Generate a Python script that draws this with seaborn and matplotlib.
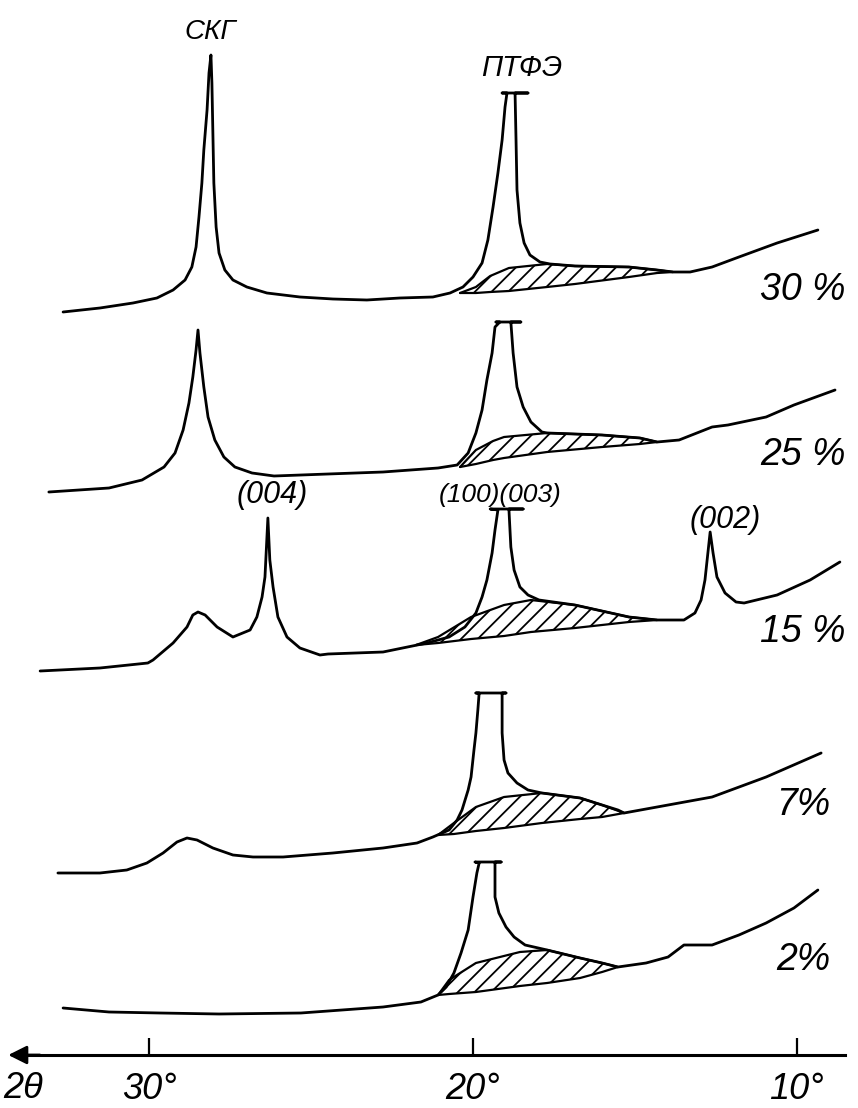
import matplotlib
matplotlib.use("Agg")
import matplotlib.pyplot as plt
import seaborn as sns
import pandas as pd

# 2theta (deg) and intensity (arb. units, relative to each curve's own baseline)
# the flat "T" at the top of the PTFE peak marks a truncated (off-scale) reflection
theta_30 = [32.67, 31.53, 30.51, 29.77, 29.27, 28.90, 28.69, 28.56, 28.47, 28.38, 28.32, 28.22, 28.16, 28.10,
            28.07, 28.04, 28.01, 27.94, 27.85, 27.67, 27.42, 26.99, 26.37, 25.35, 24.33, 23.28, 22.26, 21.24,
            20.71, 20.31, 20.00, 19.72, 19.54, 19.38, 19.23, 19.10, 19.01, 18.95, 19.10, 18.30, 18.70,
            18.67, 18.64, 18.55, 18.42, 18.24, 17.93, 17.62,
            16.85, 15.18, 14.31, 13.82, 13.29, 12.61, 11.78, 10.60, 9.34]
int_30 = [0, 4, 9, 14, 22, 32, 45, 65, 95, 129, 162, 202, 239, 257,
          229, 179, 129, 85, 59, 42, 32, 25, 19, 15, 13, 12, 14, 15,
          19, 25, 35, 49, 72, 105, 139, 172, 205, 219, 219, 219, 219,
          172, 122, 89, 69, 57, 50, 48,
          46, 45, 42, 40, 40, 45, 55, 69, 82]

theta_25 = [33.11, 31.25, 30.23, 29.55, 29.21, 28.96, 28.78, 28.66, 28.56, 28.50,
            28.44, 28.32, 28.19, 27.98, 27.70, 27.36, 26.83, 26.15, 24.48, 22.78, 21.08,
            20.49, 20.15, 19.91, 19.72, 19.57, 19.41, 19.32, 19.17, 19.29, 18.52, 18.83,
            18.76, 18.64, 18.45, 18.21, 17.87, 17.71,
            16.01, 14.84, 14.31, 13.63, 12.61, 12.12, 10.94, 10.08, 8.81]
int_25 = [0, 4, 12, 25, 39, 62, 89, 115, 142, 162,
          139, 105, 75, 52, 35, 25, 19, 16, 18, 20, 24,
          27, 39, 59, 82, 112, 139, 165, 170, 170, 170, 170,
          139, 105, 85, 70, 60, 59,
          57, 54, 50, 52, 65, 67, 75, 87, 102]

theta_15 = [33.38, 31.53, 30.05, 29.89, 29.27, 28.84, 28.66, 28.50, 28.28, 27.91, 27.42,
            26.89, 26.68, 26.52, 26.43, 26.34, 26.28, 26.18, 26.03, 25.75, 25.35, 24.73, 24.48,
            22.78, 21.42, 20.74, 20.25, 19.91, 19.72, 19.57, 19.41, 19.32, 19.23,
            19.47, 18.45, 18.89, 18.83, 18.73, 18.55, 18.30, 17.96,
            16.85, 15.18, 14.31, 13.48, 13.14, 12.95, 12.83, 12.74, 12.67, 12.58, 12.46, 12.21,
            11.87, 11.62, 10.60, 9.58, 8.66]
int_15 = [0, 3, 8, 11, 28, 44, 56, 59, 56, 44, 34,
          41, 54, 74, 94, 153, 111, 84, 54, 34, 23, 16, 17,
          19, 28, 34, 44, 58, 74, 91, 118, 141, 161,
          162, 162, 162, 124, 101, 84, 76, 71,
          66, 54, 51, 51, 58, 71, 91, 118, 139, 118, 94, 78,
          69, 68, 76, 91, 109]

theta_7 = [32.83, 31.53, 30.70, 30.08, 29.58, 29.15, 28.84, 28.53, 28.04, 27.42, 26.80, 25.87, 24.33, 22.78,
           21.73, 21.24, 20.74, 20.49, 20.34, 20.15, 20.06, 19.97, 19.91, 19.85, 19.81,
           19.91, 18.98, 19.10, 19.10, 19.04, 18.92, 18.64, 18.30, 17.87,
           16.69, 16.01, 15.52, 15.33, 14.31, 12.61, 10.94, 9.24]
int_7 = [-1, -1, 2, 9, 19, 30, 34, 32, 24, 17, 15, 15, 19, 24,
         29, 35, 42, 52, 62, 82, 95, 122, 139, 162, 179,
         179, 179, 179, 139, 112, 99, 89, 82, 79,
         74, 67, 62, 59, 65, 75, 95, 119]

theta_2 = [32.67, 31.25, 29.68, 27.85, 25.32, 22.78, 21.61, 21.08, 20.83, 20.59, 20.37, 20.15, 20.00, 19.88, 19.81,
           19.94, 19.13, 19.32, 19.32, 19.20, 18.98, 18.73, 18.39, 17.71,
           16.69, 16.01, 15.52, 14.65, 13.97, 13.48, 12.61, 11.78, 10.94, 10.08, 9.34]
int_2 = [0, -4, -5, -6, -5, 1, 6, 13, 21, 35, 55, 78, 111, 135, 145,
         146, 146, 146, 111, 95, 81, 71, 63, 58,
         50, 45, 41, 45, 51, 63, 63, 73, 85, 100, 118]

# amorphous halo (hatched): upper contour and background line
halo_theta_30 = [20.40, 19.91, 19.47, 18.89, 17.71, 16.85, 15.18, 14.31, 13.82]
halo_top_30 = [19, 25, 36, 44, 48, 46, 45, 42, 40]
halo_base_30 = [19, 19, 20, 21, 25, 28, 35, 39, 40]

halo_theta_25 = [20.40, 19.91, 19.38, 19.04, 17.71, 16.01, 14.84, 14.31]
halo_top_25 = [25, 42, 51, 55, 59, 57, 54, 50]
halo_base_25 = [25, 28, 32, 34, 40, 45, 48, 50]

halo_theta_15 = [21.76, 21.08, 20.06, 19.04, 18.21, 16.85, 15.18, 14.31]
halo_top_15 = [26, 34, 54, 66, 71, 66, 54, 51]
halo_base_15 = [26, 28, 32, 35, 39, 43, 49, 51]

halo_theta_7 = [21.08, 20.59, 19.91, 19.04, 17.87, 16.69, 16.01, 15.33]
halo_top_7 = [37, 49, 65, 75, 79, 74, 67, 59]
halo_base_7 = [37, 38, 41, 44, 49, 53, 55, 59]

halo_theta_2 = [21.08, 20.74, 19.91, 18.55, 17.71, 16.69, 16.01, 15.52]
halo_top_2 = [13, 28, 45, 56, 58, 50, 45, 41]
halo_base_2 = [13, 14, 16, 22, 25, 30, 36, 41]

labels = ["30 %", "25 %", "15 %", "7%", "2%"]
offsets = [796, 616, 437, 236, 100]        # vertical stacking of the curves
label_y = [818, 653, 476, 303, 148]

curves = [(theta_30, int_30), (theta_25, int_25), (theta_15, int_15),
          (theta_7, int_7), (theta_2, int_2)]
halos = [(halo_theta_30, halo_top_30, halo_base_30),
         (halo_theta_25, halo_top_25, halo_base_25),
         (halo_theta_15, halo_top_15, halo_base_15),
         (halo_theta_7, halo_top_7, halo_base_7),
         (halo_theta_2, halo_top_2, halo_base_2)]

tick_pos = [30, 20, 10]
tick_labels = ["30°", "20°", "10°"]

sns.set_style("white")
plt.rcParams['font.family'] = ['Liberation Sans', 'DejaVu Sans']
plt.rcParams['hatch.linewidth'] = 1.3

fig = plt.figure(figsize=(8.58, 11.08), dpi=100)
ax = fig.add_axes([0, 0, 1, 1])

lw = 2.0
for (th, inten), (hth, htop, hbase), off in zip(curves, halos, offsets):
    df = pd.DataFrame({'theta': th, 'y': [v + off for v in inten]})
    sns.lineplot(data=df, x='theta', y='y', sort=False, estimator=None,
                 color='black', lw=lw, ax=ax)
    top = [v + off for v in htop]
    base = [v + off for v in hbase]
    ax.fill_between(hth, base, top, facecolor='none', edgecolor='black',
                    hatch='//', linewidth=0)
    hdf = pd.DataFrame({'theta': hth + hth, 'y': top + base,
                        'part': ['top'] * len(hth) + ['base'] * len(hth)})
    sns.lineplot(data=hdf, x='theta', y='y', units='part', estimator=None,
                 sort=False, color='black', lw=lw * 0.8, ax=ax)

txt = dict(style='italic', color='black')
for lab, yy in zip(labels, label_y):
    ax.text(9.80, yy, lab, ha='center', va='center', fontsize=27, **txt)

ax.text(28.13, 1076, "СКГ", ha='center', va='center', fontsize=20, **txt)
ax.text(18.49, 1040, "ПТФЭ", ha='center', va='center', fontsize=21, **txt)
ax.text(26.21, 613, "(004)", ha='center', va='center', fontsize=22, **txt)
ax.text(19.17, 613, "(100)(003)", ha='center', va='center', fontsize=19, **txt)
ax.text(12.21, 588, "(002)", ha='center', va='center', fontsize=22, **txt)

# 2theta axis, increasing to the left
ax.set_xlim(34.62, 8.10)
ax.set_ylim(0, 1108)
for s in ['top', 'right', 'left']:
    ax.spines[s].set_visible(False)
ax.spines['bottom'].set_position(('data', 53))
ax.spines['bottom'].set_bounds(8.50, 33.8)
ax.spines['bottom'].set_linewidth(2.2)
ax.spines['bottom'].set_color('black')
ax.set_xticks(tick_pos)
ax.set_xticklabels(tick_labels, fontsize=26, style='italic', color='black')
ax.tick_params(axis='x', bottom=True, direction='in', length=12, width=1.6,
               pad=12, color='black')
ax.set_yticks([])
ax.set_xlabel('')
ax.set_ylabel('')
ax.annotate('', xy=(34.45, 53), xytext=(33.3, 53),
            arrowprops=dict(arrowstyle='-|>', color='black', lw=2, mutation_scale=28))
ax.text(33.92, 20, "2θ", ha='center', va='center', fontsize=26, **txt)

fig.savefig("out.png", dpi=100)
